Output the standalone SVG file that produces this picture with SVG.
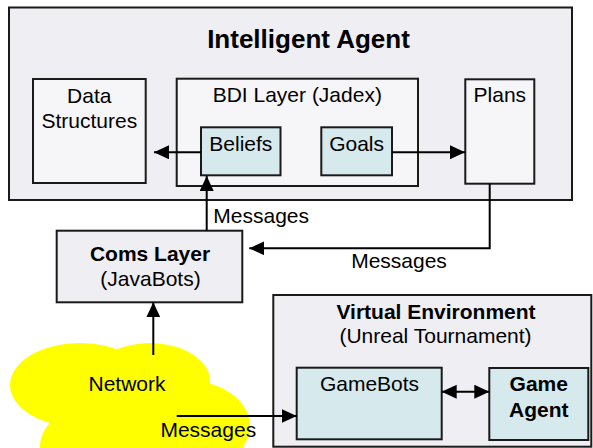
<svg xmlns="http://www.w3.org/2000/svg" width="593" height="448" viewBox="0 0 593 448">
<style>
  .outer{fill:#efeef3;stroke:#1a1a1a;stroke-width:2}
  .inner{fill:#f6f6f9;stroke:#1a1a1a;stroke-width:2}
  .blue{fill:#d6e9ed;stroke:#1a1a1a;stroke-width:2}
  text{font-family:"Liberation Sans",Arial,sans-serif;font-size:21px;fill:#000;text-anchor:middle}
  .b{font-weight:bold}
  .t{font-size:26px;font-weight:bold}
  .l{text-anchor:start}
  .conn{stroke:#000;stroke-width:2;fill:none}
</style>
<defs>
  <marker id="ah" markerUnits="userSpaceOnUse" markerWidth="16" markerHeight="15" refX="15" refY="7" orient="auto-start-reverse">
    <path d="M0,0 L15,7 L0,14 z" fill="#000"/>
  </marker>
</defs>

<g id="network">
  <ellipse cx="80" cy="385" rx="70" ry="42" fill="#ffff00"/>
  <ellipse cx="150" cy="381" rx="60" ry="38" fill="#ffff00"/>
  <ellipse cx="185" cy="426" rx="65" ry="46" fill="#ffff00"/>
  <ellipse cx="112" cy="446" rx="72" ry="46" fill="#ffff00"/>
  <ellipse cx="120" cy="400" rx="70" ry="40" fill="#ffff00"/>
  <text x="127" y="390.7">Network</text>
</g>

<g id="intelligent-agent">
  <rect class="outer" x="9" y="7.5" width="563" height="192.5"/>
  <text class="t" x="308.5" y="47.7">Intelligent Agent</text>
</g>

<g id="data-structures">
  <rect class="inner" x="33" y="79" width="112.7" height="104"/>
  <text x="89.3" y="103.3">Data</text>
  <text x="89.3" y="127.7">Structures</text>
</g>

<g id="bdi-layer">
  <rect class="inner" x="176.7" y="78.7" width="241.3" height="107.3"/>
  <text x="297.3" y="102.3">BDI Layer (Jadex)</text>
</g>

<g id="beliefs">
  <rect class="blue" x="201" y="127.3" width="79.5" height="48"/>
  <text x="240.8" y="150.7">Beliefs</text>
</g>

<g id="goals">
  <rect class="blue" x="321.3" y="127.3" width="70.7" height="48"/>
  <text x="356.6" y="150.7">Goals</text>
</g>

<g id="plans">
  <rect class="inner" x="465.3" y="79.3" width="69" height="104.4"/>
  <text x="499.8" y="102.3">Plans</text>
</g>

<g id="coms-layer">
  <rect class="outer" x="56.7" y="230.7" width="185.6" height="71.6"/>
  <text class="b" x="150" y="261">Coms Layer</text>
  <text x="150.5" y="285.7">(JavaBots)</text>
</g>

<g id="virtual-environment">
  <rect class="outer" x="273.3" y="295" width="318" height="151.7"/>
  <text class="b" x="436" y="319.3">Virtual Environment</text>
  <text x="435.5" y="343.3">(Unreal Tournament)</text>
</g>

<g id="gamebots">
  <rect class="blue" x="296.7" y="367.7" width="145" height="71.6"/>
  <text x="369.5" y="390.7">GameBots</text>
</g>

<g id="game-agent">
  <rect class="blue" x="489.3" y="368" width="99" height="72"/>
  <text class="b" x="538.8" y="391">Game</text>
  <text class="b" x="538.8" y="416.7">Agent</text>
</g>

<g id="connectors">
  <line class="conn" x1="201" y1="152.3" x2="154" y2="152.3" marker-end="url(#ah)"/>
  <line class="conn" x1="392" y1="152.3" x2="465" y2="152.3" marker-end="url(#ah)"/>
  <line class="conn" x1="206.7" y1="230.7" x2="206.7" y2="176" marker-end="url(#ah)"/>
  <polyline class="conn" points="489.7,183.7 489.7,248.3 249.3,248.3" marker-end="url(#ah)"/>
  <line class="conn" x1="153.3" y1="355" x2="153.3" y2="302.3" marker-end="url(#ah)"/>
  <line class="conn" x1="176.7" y1="416" x2="296.7" y2="416" marker-end="url(#ah)"/>
  <line class="conn" x1="441.7" y1="391.7" x2="489.3" y2="391.7" marker-start="url(#ah)" marker-end="url(#ah)"/>
  <text class="l" x="213.3" y="222.7">Messages</text>
  <text x="399" y="268.3">Messages</text>
  <text x="208.3" y="437.3">Messages</text>
</g>
</svg>
